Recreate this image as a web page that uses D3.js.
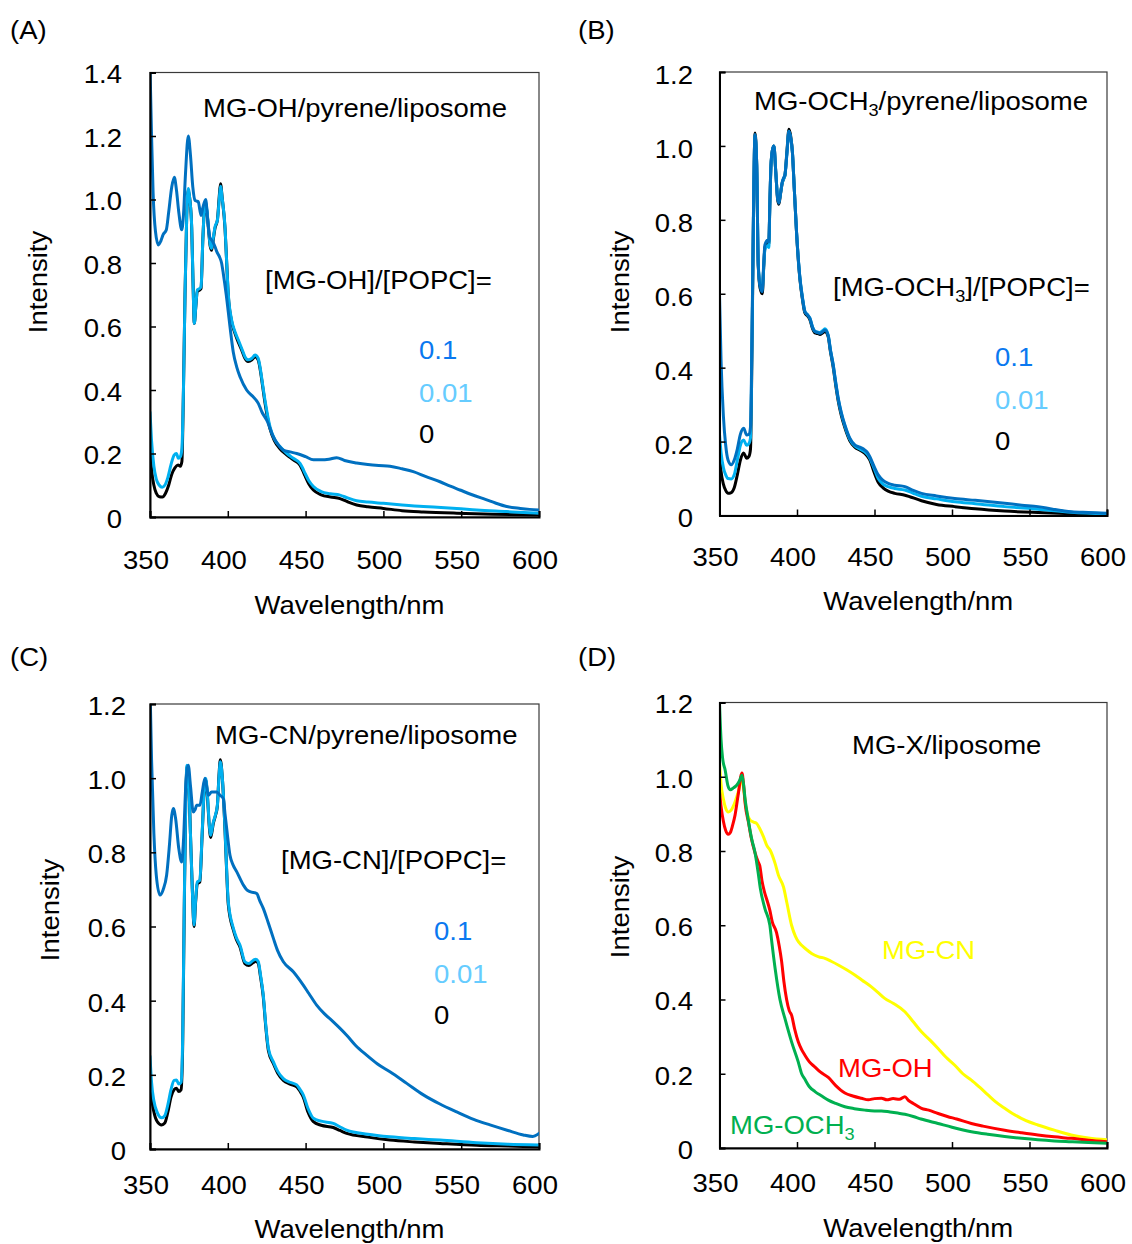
<!DOCTYPE html>
<html>
<head>
<meta charset="utf-8">
<script src="https://cdn.jsdelivr.net/npm/d3@7"></script>
<style>
  html, body { margin: 0; padding: 0; background: #fff; }
  svg { display: block; }
  text { font-family: "Liberation Sans", Arial, sans-serif; }
</style>
</head>
<body>
<svg id="fig" width="1132" height="1244"></svg>
<script>
// ---------- data: emission spectra, [wavelength (nm), intensity] ----------
const xTicks = [350, 400, 450, 500, 550, 600];
const yTicksA = [0, 0.2, 0.4, 0.6, 0.8, 1.0, 1.2, 1.4];
const yTicksBCD = [0, 0.2, 0.4, 0.6, 0.8, 1.0, 1.2];
const ratioLabels = ["0.1", "0.01", "0"];

// (A) MG-OH/pyrene/liposome
const A_r01 = [[350,1.42],[351,1.2],[352,1.02],[353.5,0.9],[355.4,0.857],[357,0.87],[358.5,0.89],[360.5,0.905],[362,0.96],[364,1.04],[365.6,1.07],[367,1.03],[368.5,0.96],[370.4,0.905],[371.5,0.95],[372.8,1.08],[374.6,1.2],[376,1.14],[377.5,1.04],[378.9,0.998],[380,0.995],[381,0.993],[382.8,0.95],[384,0.975],[385.8,1.0],[387,0.94],[388.5,0.88],[390,0.87],[391.8,0.851],[393,0.835],[394.6,0.82],[396,0.8],[397.1,0.767],[399,0.7],[401.4,0.6],[403.5,0.52],[405.7,0.473],[408,0.44],[412.1,0.4],[416,0.38],[419.6,0.358],[422,0.33],[425,0.305],[429.3,0.253],[432,0.23],[435.7,0.211],[440,0.205],[444.3,0.2],[450,0.19],[455,0.18],[460,0.18],[465,0.182],[470,0.187],[475,0.178],[482.8,0.17],[490,0.165],[497,0.162],[504.2,0.16],[512,0.152],[519.2,0.143],[527,0.128],[536.4,0.111],[543,0.097],[549.2,0.085],[557,0.07],[566.4,0.054],[572,0.044],[579.2,0.033],[588,0.027],[594,0.024],[600,0.022]];
const A_r001 = [[350,0.33],[351,0.24],[352.5,0.16],[354,0.12],[356,0.1],[357.8,0.094],[359.5,0.1],[361.5,0.125],[363.5,0.165],[365.5,0.195],[367,0.2],[368.2,0.185],[369.5,0.19],[370.5,0.215],[371.5,0.4],[372.5,0.7],[373.6,0.95],[374.6,1.035],[375.6,1.0],[376.8,0.914],[377.6,0.75],[378.5,0.61],[379.4,0.66],[380.4,0.715],[382,0.72],[382.8,0.725],[384,0.88],[385.5,0.995],[386.5,0.97],[387.8,0.9],[388.6,0.86],[389.6,0.846],[390.7,0.88],[391.8,0.914],[393.3,0.935],[394.5,1.0],[395.3,1.042],[396.5,1.0],[398.2,0.914],[399.3,0.8],[400.3,0.704],[402.5,0.62],[404.5,0.585],[406.8,0.557],[409,0.53],[411,0.505],[413,0.495],[415.5,0.5],[417.5,0.51],[419.5,0.5],[420.7,0.473],[422.3,0.42],[423.9,0.368],[427.1,0.285],[430,0.245],[433.5,0.222],[438,0.2],[442.1,0.185],[446.4,0.169],[448,0.155],[449.6,0.138],[452,0.115],[455,0.096],[460,0.08],[466,0.073],[472.1,0.069],[477,0.06],[482.8,0.051],[490,0.047],[500,0.043],[512,0.038],[525.7,0.033],[537,0.03],[547.1,0.027],[560,0.022],[579.2,0.017],[590,0.014],[600,0.012]];
const A_r0 = [[350,0.22],[351,0.15],[352.5,0.1],[354,0.075],[356,0.064],[358,0.063],[360,0.075],[362,0.1],[364,0.135],[366,0.155],[368,0.164],[369.5,0.16],[370.5,0.175],[371.5,0.4],[372.5,0.7],[373.6,0.95],[374.6,1.03],[375.6,1.0],[376.8,0.91],[377.6,0.75],[378.5,0.61],[379.4,0.66],[380.4,0.71],[382,0.715],[382.8,0.72],[384,0.88],[385.5,0.99],[386.5,0.965],[387.8,0.895],[388.6,0.855],[389.6,0.84],[390.7,0.875],[391.8,0.91],[393.3,0.935],[394.5,1.01],[395.3,1.05],[396.5,1.0],[398.2,0.91],[399.3,0.8],[400.3,0.7],[402.5,0.615],[404.5,0.58],[406.8,0.55],[409,0.525],[411,0.5],[413,0.49],[415.5,0.495],[417.5,0.505],[419.5,0.495],[420.7,0.468],[422.3,0.415],[423.9,0.36],[427.1,0.278],[430,0.24],[433.5,0.215],[438,0.195],[442.1,0.18],[446.4,0.163],[448,0.148],[449.6,0.13],[452,0.105],[455,0.085],[460,0.07],[466,0.063],[472.1,0.058],[477,0.048],[482.8,0.038],[490,0.032],[500,0.027],[512,0.02],[525.7,0.016],[547.1,0.012],[570,0.009],[600,0.006]];

// (B) MG-OCH3/pyrene/liposome
const B_r01 = [[350,0.6],[351,0.42],[352.5,0.27],[354,0.19],[355.5,0.15],[357.6,0.137],[359.5,0.15],[361.5,0.18],[363.5,0.22],[365.6,0.236],[367.5,0.218],[369,0.22],[370,0.24],[371,0.5],[372,0.85],[372.9,1.03],[374,0.95],[375,0.678],[376.2,0.62],[377.6,0.606],[378.5,0.68],[379.3,0.732],[381,0.745],[381.8,0.74],[382.5,0.85],[383.2,0.949],[384.2,0.99],[385.1,1.0],[386.3,0.93],[387.5,0.858],[388.3,0.845],[389.3,0.87],[390.5,0.903],[391.5,0.915],[392.2,0.921],[393.5,0.98],[394.8,1.039],[396,1.02],[397,0.985],[398.3,0.88],[399.7,0.768],[401.9,0.642],[403.5,0.59],[405.1,0.552],[406.8,0.543],[408.3,0.534],[410,0.51],[411.6,0.498],[413.5,0.495],[414.8,0.493],[416.5,0.497],[418,0.502],[420.1,0.488],[421.5,0.45],[423.4,0.407],[425,0.36],[426.6,0.317],[428.5,0.28],[430.9,0.245],[434,0.21],[437.3,0.191],[440.5,0.185],[443.8,0.177],[445.5,0.17],[447,0.159],[449.5,0.135],[452.4,0.11],[455.5,0.095],[458.8,0.087],[463,0.082],[469.6,0.078],[475,0.068],[480.3,0.06],[490,0.053],[501.8,0.046],[515,0.041],[534,0.033],[545,0.028],[555.5,0.024],[565,0.017],[577,0.01],[588,0.008],[600,0.006]];
const B_r001 = [[350,0.22],[351,0.17],[352.5,0.13],[354,0.11],[355.5,0.1],[357.6,0.099],[359.5,0.11],[361.5,0.15],[363.5,0.19],[365.6,0.204],[367.5,0.19],[369,0.195],[370,0.21],[371,0.48],[372,0.84],[372.9,1.03],[374,0.95],[375,0.68],[376.2,0.625],[377.6,0.615],[378.5,0.67],[379.3,0.72],[381,0.73],[381.8,0.725],[382.5,0.84],[383.2,0.945],[384.2,0.99],[385.1,1.0],[386.3,0.93],[387.5,0.86],[388.3,0.848],[389.3,0.87],[390.5,0.9],[391.5,0.912],[392.2,0.92],[393.5,0.98],[394.8,1.04],[396,1.02],[397,0.985],[398.3,0.88],[399.7,0.768],[401.9,0.642],[403.5,0.59],[405.1,0.552],[406.8,0.543],[408.3,0.534],[410,0.51],[411.6,0.498],[413.5,0.496],[414.8,0.495],[416.5,0.5],[418,0.505],[420.1,0.488],[421.5,0.45],[423.4,0.405],[425,0.358],[426.6,0.315],[428.5,0.278],[430.9,0.242],[434,0.207],[437.3,0.188],[440.5,0.18],[443.8,0.172],[445.5,0.165],[447,0.155],[449.5,0.13],[452.4,0.1],[455.5,0.085],[458.8,0.078],[463,0.073],[469.6,0.069],[475,0.06],[480.3,0.052],[490,0.045],[501.8,0.037],[515,0.032],[534,0.024],[555.5,0.017],[577,0.009],[600,0.005]];
const B_r0 = [[350,0.17],[351,0.12],[352.5,0.085],[354,0.068],[355.5,0.06],[357.6,0.062],[359.5,0.075],[361.5,0.11],[363.5,0.15],[365.6,0.169],[367.5,0.155],[369,0.16],[370,0.18],[371,0.46],[372,0.84],[372.9,1.035],[374,0.95],[375,0.675],[376.2,0.615],[377.6,0.6],[378.5,0.67],[379.3,0.725],[381,0.74],[381.8,0.735],[382.5,0.845],[383.2,0.945],[384.2,0.99],[385.1,1.0],[386.3,0.93],[387.5,0.855],[388.3,0.842],[389.3,0.868],[390.5,0.9],[391.5,0.912],[392.2,0.92],[393.5,0.985],[394.8,1.045],[396,1.025],[397,0.985],[398.3,0.88],[399.7,0.765],[401.9,0.638],[403.5,0.585],[405.1,0.548],[406.8,0.54],[408.3,0.53],[410,0.506],[411.6,0.494],[413.5,0.492],[414.8,0.49],[416.5,0.494],[418,0.498],[420.1,0.484],[421.5,0.445],[423.4,0.4],[425,0.352],[426.6,0.31],[428.5,0.272],[430.9,0.237],[434,0.203],[437.3,0.185],[440.5,0.177],[443.8,0.168],[445.5,0.16],[447,0.15],[449.5,0.12],[452.4,0.09],[455.5,0.075],[458.8,0.066],[463,0.06],[469.6,0.055],[480.3,0.04],[490,0.03],[501.8,0.024],[515,0.018],[534,0.012],[555.5,0.008],[577,0.005],[600,0.003]];

// (C) MG-CN/pyrene/liposome
const C_r01 = [[350,1.25],[351,1.05],[352.5,0.85],[354,0.74],[356.4,0.685],[358.5,0.7],[360.7,0.739],[362.5,0.82],[364,0.9],[365,0.918],[366.5,0.89],[368.5,0.81],[370.4,0.774],[371.5,0.83],[373,0.98],[374.6,1.035],[376,0.98],[377.8,0.909],[379,0.915],[380,0.927],[382.1,0.927],[383.5,0.96],[385.3,1.0],[386.5,0.975],[387.5,0.954],[389.6,0.963],[392.8,0.963],[395,0.954],[397.1,0.945],[398.3,0.9],[399.3,0.864],[401.4,0.792],[403.5,0.765],[405.7,0.748],[410,0.712],[412,0.7],[414.3,0.694],[418.6,0.689],[420.5,0.67],[422.8,0.649],[426,0.61],[429.3,0.568],[432,0.535],[435.7,0.505],[442.1,0.478],[448.5,0.442],[452,0.42],[457.1,0.388],[462,0.365],[467.8,0.343],[476.4,0.307],[482,0.28],[489.2,0.253],[496,0.23],[504.2,0.208],[515,0.177],[525.7,0.146],[536,0.122],[547.1,0.1],[558,0.08],[568.5,0.065],[580,0.05],[589.9,0.038],[596,0.034],[600,0.042]];
const C_r001 = [[350,0.25],[351,0.18],[352.5,0.13],[354.5,0.1],[357.5,0.084],[359.5,0.09],[361.5,0.12],[363.5,0.16],[365.5,0.185],[367,0.186],[368.5,0.175],[370,0.18],[371,0.3],[372,0.65],[373,0.95],[373.8,1.035],[374.8,1.0],[376,0.85],[377.2,0.7],[378.3,0.604],[379.3,0.67],[380.4,0.72],[382,0.725],[383.5,0.85],[384.8,0.97],[385.8,1.0],[387,0.95],[388,0.88],[389,0.846],[390.7,0.882],[392,0.9],[393.3,0.927],[394.3,1.0],[395.2,1.044],[396.5,1.0],[398.2,0.864],[399.3,0.75],[400.3,0.667],[403.6,0.595],[405.5,0.57],[407.8,0.55],[411,0.505],[413.5,0.5],[416.4,0.509],[418,0.512],[419.6,0.505],[421,0.47],[422.8,0.415],[424.5,0.33],[426.1,0.271],[429.3,0.235],[432,0.21],[435.7,0.19],[440,0.18],[444.3,0.173],[446.5,0.16],[448.5,0.146],[451.5,0.11],[455,0.083],[460,0.075],[467.8,0.069],[472,0.06],[476.4,0.051],[490,0.04],[504.2,0.033],[520,0.028],[536.4,0.024],[560,0.017],[580,0.013],[600,0.011]];
const C_r0 = [[350,0.2],[351,0.14],[352.5,0.1],[354.5,0.075],[357.5,0.065],[359.5,0.07],[361.5,0.1],[363.5,0.14],[365.5,0.16],[367,0.164],[368.5,0.155],[370,0.16],[371,0.28],[372,0.64],[373,0.945],[373.8,1.03],[374.8,1.0],[376,0.85],[377.2,0.7],[378.3,0.6],[379.3,0.665],[380.4,0.715],[382,0.72],[383.5,0.845],[384.8,0.965],[385.8,0.995],[387,0.945],[388,0.875],[389,0.84],[390.7,0.878],[392,0.898],[393.3,0.925],[394.3,1.005],[395.2,1.05],[396.5,1.0],[398.2,0.86],[399.3,0.745],[400.3,0.66],[403.6,0.59],[405.5,0.565],[407.8,0.545],[411,0.5],[413.5,0.495],[416.4,0.503],[418,0.506],[419.6,0.5],[421,0.465],[422.8,0.41],[424.5,0.325],[426.1,0.265],[429.3,0.23],[432,0.205],[435.7,0.185],[440,0.175],[444.3,0.168],[446.5,0.155],[448.5,0.14],[451.5,0.1],[455,0.074],[460,0.064],[467.8,0.058],[472,0.05],[476.4,0.042],[490,0.032],[504.2,0.024],[520,0.019],[536.4,0.015],[560,0.01],[580,0.008],[600,0.006]];

// (D) MG-X/liposome (no pyrene)
const D_CN = [[350,1.04],[351,0.98],[352.5,0.94],[354,0.915],[355.7,0.905],[357.5,0.91],[360,0.932],[362.5,0.965],[364.5,1.0],[365.5,0.97],[367,0.92],[369.8,0.883],[372,0.878],[374,0.874],[376,0.86],[378.4,0.838],[380.5,0.815],[382.7,0.802],[385.9,0.766],[388,0.735],[391.3,0.703],[393.5,0.66],[396.5,0.6],[399,0.57],[401,0.555],[403,0.546],[406,0.535],[409.4,0.524],[414,0.515],[418,0.511],[422,0.503],[426.6,0.493],[432,0.48],[437.3,0.466],[442,0.452],[448,0.434],[452,0.42],[456.6,0.403],[462,0.39],[469.6,0.367],[475,0.34],[480.3,0.313],[486,0.29],[491,0.268],[496,0.245],[501.8,0.223],[507,0.2],[512.5,0.183],[518,0.163],[523.2,0.143],[528,0.125],[534,0.107],[539,0.093],[544.7,0.08],[550,0.07],[555.4,0.062],[566,0.048],[576.9,0.035],[588,0.027],[600,0.022]];
const D_OH = [[350,0.96],[351,0.92],[352.5,0.88],[354,0.855],[355.6,0.845],[357,0.85],[358.5,0.87],[360,0.896],[362,0.95],[364.5,1.01],[365.5,0.98],[366.5,0.93],[368.8,0.875],[370.5,0.835],[373,0.794],[375,0.77],[376,0.76],[377.4,0.72],[379,0.69],[380.6,0.668],[382.5,0.64],[384,0.61],[386.8,0.58],[388.5,0.545],[390.1,0.502],[391.5,0.45],[393.3,0.4],[395,0.37],[396.5,0.358],[398.5,0.32],[400.8,0.286],[403,0.265],[405.1,0.25],[408,0.232],[411.6,0.218],[415,0.205],[420.2,0.19],[425,0.168],[430.9,0.148],[436,0.14],[441.6,0.134],[446,0.13],[450,0.133],[454.5,0.134],[458,0.13],[462,0.133],[466,0.131],[469.6,0.138],[472,0.128],[475,0.12],[480.3,0.107],[485,0.102],[491,0.093],[497,0.085],[503,0.078],[512.5,0.066],[520,0.059],[534,0.048],[545,0.041],[555.4,0.035],[566,0.03],[576.9,0.026],[588,0.021],[600,0.017]];
const D_OCH3 = [[350,1.2],[351,1.1],[352,1.05],[353.7,1.017],[355.5,0.975],[357,0.965],[359,0.97],[361.1,0.977],[363,0.99],[364.5,1.004],[365.5,0.98],[366.6,0.937],[368.5,0.885],[370.9,0.83],[372.7,0.8],[375,0.74],[376.3,0.7],[379.3,0.645],[382.5,0.6],[383.6,0.56],[386,0.48],[389,0.4],[392.2,0.349],[396.5,0.286],[400.8,0.232],[403,0.2],[405.1,0.185],[408,0.165],[411.6,0.152],[416,0.14],[420.2,0.129],[425,0.12],[430.9,0.111],[437,0.106],[443.8,0.102],[450,0.1],[454.5,0.1],[460,0.097],[465,0.094],[469.6,0.091],[475,0.085],[480,0.078],[491,0.066],[500,0.056],[512.5,0.044],[523,0.037],[534,0.031],[545,0.026],[555.4,0.022],[566,0.019],[576.9,0.017],[588,0.015],[600,0.013]];

// ---------- styling ----------
const DARK_BLUE = "#0070C0", LIGHT_BLUE = "#00B0F0", BLACK = "#000000";
const TXT_01 = "#0A78F0", TXT_001 = "#66CCFF";
const YELLOW = "#FFFF00", RED = "#FF0000", GREEN = "#00B050";
const FS = 25, SX = 1.1;      // font size and horizontal glyph stretch

const svg = d3.select("#fig");
const fmt = v => v === 0 ? "0" : d3.format(".1f")(v);

// text helper: (x, cy) = left/center/right anchor at vertical centre
function label(parent, x, cy, parts, opt = {}) {
  const anchor = opt.anchor || "start";
  const rot = opt.rotate ? ` rotate(${opt.rotate})` : "";
  const t = parent.append("text")
    .attr("transform", `translate(${x},${cy})${rot} scale(${SX},1)`)
    .attr("y", FS * 0.358)
    .attr("text-anchor", anchor)
    .attr("font-size", FS)
    .attr("fill", opt.color || "#000");
  (Array.isArray(parts) ? parts : [parts]).forEach(p => {
    if (typeof p === "string") t.append("tspan").text(p);
    else t.append("tspan").attr("font-size", FS * 0.66).attr("dy", 6).text(p.sub)
           .each(function () { /* next tspan resets baseline */ });
  });
  // reset baseline after subscript runs
  t.selectAll("tspan").each(function (d, i, nodes) {
    if (i > 0 && nodes[i - 1].getAttribute("dy") === "6" && !this.getAttribute("dy")) {
      d3.select(this).attr("dy", -6);
    }
  });
  return t;
}

const panels = [
  { id: "A", tag: "(A)", tagX: 10, tagY: 30,
    x0: 150, x1: 539, yTop: 72.5, yBot: 517, yMax: 1.4, yTicks: yTicksA,
    yLabRight: 122, yLabDy: 2, xLabDy: 43, xTitleDy: 88, intX: 38, intY: 282,
    series: [{ d: A_r0, c: BLACK }, { d: A_r001, c: LIGHT_BLUE }, { d: A_r01, c: DARK_BLUE }],
    texts: [
      { x: 203, y: 108, t: ["MG-OH/pyrene/liposome"] },
      { x: 265, y: 280, t: ["[MG-OH]/[POPC]="] },
      { x: 419, y: 350, t: [ratioLabels[0]], c: TXT_01 },
      { x: 419, y: 393, t: [ratioLabels[1]], c: TXT_001 },
      { x: 419, y: 434, t: [ratioLabels[2]], c: BLACK }
    ] },
  { id: "B", tag: "(B)", tagX: 578, tagY: 30,
    x0: 719.5, x1: 1107, yTop: 72, yBot: 515.5, yMax: 1.2, yTicks: yTicksBCD,
    yLabRight: 693, yLabDy: 3, xLabDy: 41.5, xTitleDy: 85.5, intX: 620, intY: 282,
    series: [{ d: B_r0, c: BLACK }, { d: B_r001, c: LIGHT_BLUE }, { d: B_r01, c: DARK_BLUE }],
    texts: [
      { x: 754, y: 101, t: ["MG-OCH", { sub: "3" }, "/pyrene/liposome"] },
      { x: 833, y: 287, t: ["[MG-OCH", { sub: "3" }, "]/[POPC]="] },
      { x: 995, y: 357, t: [ratioLabels[0]], c: TXT_01 },
      { x: 995, y: 400, t: [ratioLabels[1]], c: TXT_001 },
      { x: 995, y: 441, t: [ratioLabels[2]], c: BLACK }
    ] },
  { id: "C", tag: "(C)", tagX: 10, tagY: 657,
    x0: 150, x1: 539, yTop: 704, yBot: 1149, yMax: 1.2, yTicks: yTicksBCD,
    yLabRight: 126, yLabDy: 2, xLabDy: 36, xTitleDy: 80, intX: 50, intY: 910,
    series: [{ d: C_r0, c: BLACK }, { d: C_r001, c: LIGHT_BLUE }, { d: C_r01, c: DARK_BLUE }],
    texts: [
      { x: 215, y: 735, t: ["MG-CN/pyrene/liposome"] },
      { x: 281, y: 860, t: ["[MG-CN]/[POPC]="] },
      { x: 434, y: 931, t: [ratioLabels[0]], c: TXT_01 },
      { x: 434, y: 974, t: [ratioLabels[1]], c: TXT_001 },
      { x: 434, y: 1015, t: [ratioLabels[2]], c: BLACK }
    ] },
  { id: "D", tag: "(D)", tagX: 578, tagY: 657,
    x0: 719.5, x1: 1107, yTop: 702.5, yBot: 1148, yMax: 1.2, yTicks: yTicksBCD,
    yLabRight: 693, yLabDy: 2, xLabDy: 35, xTitleDy: 80, intX: 620, intY: 907,
    series: [{ d: D_CN, c: YELLOW }, { d: D_OH, c: RED }, { d: D_OCH3, c: GREEN }],
    texts: [
      { x: 852, y: 745, t: ["MG-X/liposome"] },
      { x: 882, y: 950, t: ["MG-CN"], c: YELLOW },
      { x: 838, y: 1068, t: ["MG-OH"], c: RED },
      { x: 730, y: 1125, t: ["MG-OCH", { sub: "3" }], c: GREEN }
    ] }
];

panels.forEach(p => {
  const g = svg.append("g").attr("class", "panel-" + p.id);
  const x = d3.scaleLinear().domain([350, 600]).range([p.x0, p.x1]);
  const y = d3.scaleLinear().domain([0, p.yMax]).range([p.yBot, p.yTop]);

  // panel tag
  label(g, p.tagX, p.tagY, p.tag);

  // clip region for the spectra
  const clipId = "clip-" + p.id;
  g.append("clipPath").attr("id", clipId).append("rect")
    .attr("x", p.x0).attr("y", p.yTop).attr("width", p.x1 - p.x0).attr("height", p.yBot - p.yTop);

  // plot frame (top/right)
  g.append("rect")
    .attr("x", p.x0).attr("y", p.yTop).attr("width", p.x1 - p.x0).attr("height", p.yBot - p.yTop)
    .attr("fill", "none").attr("stroke", "#3a3a3a").attr("stroke-width", 1.2);

  // spectra
  const line = d3.line().x(d => x(d[0])).y(d => y(d[1])).curve(d3.curveMonotoneX);
  const lg = g.append("g").attr("clip-path", `url(#${clipId})`);
  p.series.forEach(s => {
    lg.append("path").datum(s.d).attr("d", line)
      .attr("fill", "none").attr("stroke", s.c).attr("stroke-width", 3)
      .attr("stroke-linejoin", "round").attr("stroke-linecap", "round");
  });

  // axes with inward ticks
  const yAxis = d3.axisLeft(y).tickValues(p.yTicks).tickSize(-6).tickFormat("");
  const xAxis = d3.axisBottom(x).tickValues(xTicks).tickSize(-6).tickFormat("");
  const ya = g.append("g").attr("transform", `translate(${p.x0},0)`).call(yAxis);
  const xa = g.append("g").attr("transform", `translate(0,${p.yBot})`).call(xAxis);
  [ya, xa].forEach(a => {
    a.select(".domain").attr("stroke", "#000").attr("stroke-width", 2);
    a.selectAll(".tick line").attr("stroke", "#000").attr("stroke-width", 1.5);
  });

  // tick labels
  p.yTicks.forEach(v => label(g, p.yLabRight, y(v) + p.yLabDy, fmt(v), { anchor: "end" }));
  xTicks.forEach(v => label(g, x(v) - 4, p.yBot + p.xLabDy, String(v), { anchor: "middle" }));

  // axis titles
  label(g, (p.x0 + p.x1) / 2 + 5, p.yBot + p.xTitleDy, "Wavelength/nm", { anchor: "middle" });
  label(g, p.intX, p.intY, "Intensity", { anchor: "middle", rotate: -90 });

  // annotations
  p.texts.forEach(t => label(g, t.x, t.y, t.t, { color: t.c }));
});
</script>
</body>
</html>
